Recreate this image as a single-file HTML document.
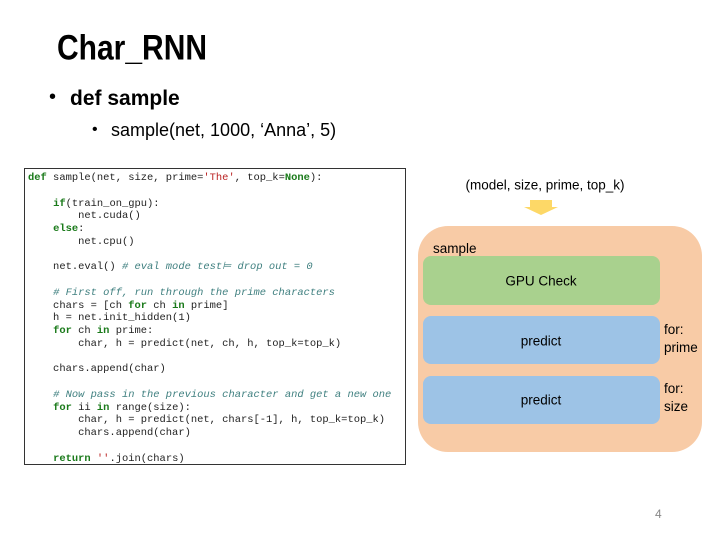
<!DOCTYPE html>
<html><head><meta charset="utf-8"><style>
body{margin:0;width:720px;height:540px;background:#fff;position:relative;overflow:hidden;font-family:"Liberation Sans",sans-serif;color:#000}
.a{position:absolute;white-space:nowrap}
.code{position:absolute;left:24px;top:168px;width:382px;height:297px;border:1px solid #333;box-sizing:border-box;background:#fff}
.code pre{margin:0;position:absolute;left:3px;top:3px;font-family:"Liberation Mono",monospace;font-size:10.45px;line-height:12.75px;color:#222}
.k{color:#1a7a1a;font-weight:bold}.s{color:#ba2121}.c{color:#408080;font-style:italic}
.box{position:absolute;border-radius:8px}
.lbl{position:absolute;font-size:13.5px;transform:translate(-50%,-50%)}
</style></head><body>
<div class="a" style="left:57px;top:29px;font-size:30px;font-weight:bold;transform:scaleY(1.18);transform-origin:top left;">Char_RNN</div>
<div class="a" style="left:49px;top:86px;font-size:20px;">•</div>
<div class="a" style="left:70px;top:87px;font-size:21px;font-weight:bold;">def sample</div>
<div class="a" style="left:92px;top:121px;font-size:16px;">•</div>
<div class="a" style="left:111px;top:120px;font-size:18px;">sample(net, 1000, ‘Anna’, 5)</div>

<div class="code"><pre><span class="k">def</span> sample(net, size, prime=<span class="s">'The'</span>, top_k=<span class="k">None</span>):

    <span class="k">if</span>(train_on_gpu):
        net.cuda()
    <span class="k">else</span>:
        net.cpu()

    net.eval() <span class="c"># eval mode test⊨ drop out = 0</span>

    <span class="c"># First off, run through the prime characters</span>
    chars = [ch <span class="k">for</span> ch <span class="k">in</span> prime]
    h = net.init_hidden(1)
    <span class="k">for</span> ch <span class="k">in</span> prime:
        char, h = predict(net, ch, h, top_k=top_k)

    chars.append(char)

    <span class="c"># Now pass in the previous character and get a new one</span>
    <span class="k">for</span> ii <span class="k">in</span> range(size):
        char, h = predict(net, chars[-1], h, top_k=top_k)
        chars.append(char)

    <span class="k">return</span> <span class="s">''</span>.join(chars)</pre></div>

<div class="lbl" style="left:545px;top:185px;">(model, size, prime, top_k)</div>
<svg class="a" style="left:524px;top:199px" width="36" height="18"><polygon points="6,1 28,1 28,8 34,8 17,16 0,8 6,8" fill="#fdd867"/></svg>
<div class="box" style="left:418px;top:226px;width:284px;height:226px;background:#f8cba6;border-radius:30px"></div>
<div class="a" style="left:433px;top:241px;font-size:13.5px;">sample</div>
<div class="box" style="left:423px;top:256px;width:237px;height:49px;background:#a9d18e"></div>
<div class="lbl" style="left:541px;top:281px;">GPU Check</div>
<div class="box" style="left:423px;top:316px;width:237px;height:48px;background:#9dc3e6"></div>
<div class="lbl" style="left:541px;top:341px;">predict</div>
<div class="box" style="left:423px;top:376px;width:237px;height:48px;background:#9dc3e6"></div>
<div class="lbl" style="left:541px;top:400px;">predict</div>
<div class="a" style="left:664px;top:321px;font-size:13.5px;line-height:18px;">for:<br>prime</div>
<div class="a" style="left:664px;top:380px;font-size:13.5px;line-height:18px;">for:<br>size</div>
<div class="a" style="left:655px;top:507px;font-size:12px;color:#888;">4</div>
</body></html>
